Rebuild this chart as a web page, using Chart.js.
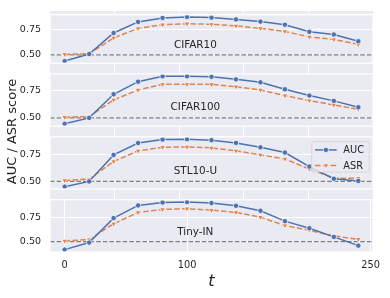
<!DOCTYPE html>
<html>
<head>
<meta charset="utf-8">
<script src="https://cdn.jsdelivr.net/npm/chart.js@4.4.1/dist/chart.umd.min.js"></script>
<style>
    html, body { margin: 0; padding: 0; background: #ffffff; }
    #wrap { position: relative; width: 390px; height: 298px; overflow: hidden; }
    #wrap canvas { position: absolute; left: 0; top: 0; }
</style>
</head>
<body>
<div id="wrap">
    <canvas id="bg" width="390" height="298"></canvas>
    <canvas id="p0" width="390" height="298"></canvas>
    <canvas id="p1" width="390" height="298"></canvas>
    <canvas id="p2" width="390" height="298"></canvas>
    <canvas id="p3" width="390" height="298"></canvas>
</div>
<script>
// Data
const steps = [0, 20, 40, 60, 80, 100, 120, 140, 160, 180, 200, 220, 240];
const panelNames = ['CIFAR10', 'CIFAR100', 'STL10-U', 'Tiny-IN'];
const seriesNames = ['AUC', 'ASR'];

const aucCifar10  = [0.438, 0.509, 0.719, 0.830, 0.870, 0.880, 0.873, 0.855, 0.833, 0.802, 0.731, 0.704, 0.636];
const asrCifar10  = [0.506, 0.512, 0.670, 0.765, 0.802, 0.812, 0.806, 0.790, 0.765, 0.735, 0.679, 0.654, 0.605];
const aucCifar100 = [0.446, 0.500, 0.714, 0.828, 0.877, 0.877, 0.873, 0.849, 0.822, 0.759, 0.702, 0.654, 0.596];
const asrCifar100 = [0.506, 0.512, 0.663, 0.753, 0.804, 0.804, 0.804, 0.783, 0.753, 0.702, 0.657, 0.617, 0.578];
const aucStl10    = [0.450, 0.500, 0.750, 0.862, 0.895, 0.898, 0.889, 0.863, 0.821, 0.772, 0.640, 0.525, 0.505];
const asrStl10    = [0.509, 0.522, 0.688, 0.788, 0.822, 0.825, 0.816, 0.788, 0.750, 0.712, 0.616, 0.530, 0.531];
const aucTinyIn   = [0.418, 0.490, 0.740, 0.870, 0.900, 0.904, 0.894, 0.866, 0.815, 0.709, 0.637, 0.548, 0.459];
const asrTinyIn   = [0.507, 0.521, 0.682, 0.798, 0.829, 0.836, 0.822, 0.798, 0.750, 0.664, 0.616, 0.558, 0.524];

const aucSeries = [aucCifar10, aucCifar100, aucStl10, aucTinyIn];
const asrSeries = [asrCifar10, asrCifar100, asrStl10, asrTinyIn];

const yTicks = [0.5, 0.75];
const xTicks = [0, 100, 250];
const chanceLevel = 0.5;

// Layout (pixels)
const AREA_LEFT = 50, AREA_RIGHT = 373, AREA_TOP = 11, AREA_BOTTOM = 252;
const PANEL_H = 52.3, PANEL_GAP = 10.6;
const W = 390, H = 298;

const GRAY_BG = '#eaeaf2';
const BLUE = '#4c72b0';
const ORANGE = '#dd8452';
const TEXT = '#262626';
const FONT = "'DejaVu Sans', sans-serif";

Chart.defaults.font.family = FONT;
Chart.defaults.color = TEXT;

// matplotlib style autoscale: 5% margins
function paddedRange(values) {
    const lo = Math.min(...values), hi = Math.max(...values);
    const m = (hi - lo) * 0.05;
    return [lo - m, hi + m];
}
const xRange = paddedRange(steps);

// background axes (the grey figure-level frame with its own grid)
const bgPlugin = {
    id: 'bgFill',
    beforeDraw(chart) {
        const {ctx, chartArea: a} = chart;
        ctx.save();
        ctx.fillStyle = GRAY_BG;
        ctx.fillRect(a.left, a.top, a.right - a.left, a.bottom - a.top);
        ctx.restore();
    }
};

new Chart(document.getElementById('bg'), {
    type: 'scatter',
    data: { datasets: [] },
    options: {
        responsive: false,
        animation: false,
        events: [],
        layout: { padding: { left: 0, right: W - AREA_RIGHT, top: AREA_TOP, bottom: 0 } },
        plugins: { legend: { display: false }, tooltip: { enabled: false } },
        scales: {
            x: {
                type: 'linear', min: 0, max: 1,
                afterBuildTicks: s => { s.ticks = [0.2, 0.4, 0.6, 0.8].map(v => ({ value: v })); },
                afterFit: s => { s.height = H - AREA_BOTTOM; },
                ticks: { display: false },
                grid: { color: '#ffffff', lineWidth: 1, drawTicks: false },
                border: { display: false }
            },
            y: {
                type: 'linear', min: 0, max: 1,
                afterBuildTicks: s => { s.ticks = [0.2, 0.4, 0.6, 0.8].map(v => ({ value: v })); },
                afterFit: s => { s.width = AREA_LEFT; },
                ticks: { display: false },
                grid: { color: '#ffffff', lineWidth: 1, drawTicks: false },
                border: { display: false },
                title: {
                    display: true,
                    text: 'AUC / ASR score',
                    color: TEXT,
                    font: { size: 13 },
                    padding: { top: 5, bottom: 0 }
                }
            }
        }
    },
    plugins: [bgPlugin]
});

// draw a legend marker
function drawMarker(ctx, style, x, y, r, fill) {
    ctx.save();
    ctx.fillStyle = fill;
    ctx.strokeStyle = '#ffffff';
    ctx.lineWidth = 0.75;
    ctx.setLineDash([]);
    ctx.beginPath();
    if (style === 'circle') {
        ctx.arc(x, y, r, 0, Math.PI * 2);
    } else {
        ctx.moveTo(x, y + r);
        ctx.lineTo(x - r * 0.866, y - r * 0.5);
        ctx.lineTo(x + r * 0.866, y - r * 0.5);
        ctx.closePath();
    }
    ctx.fill();
    ctx.stroke();
    ctx.restore();
}

const panelPlugin = {
    id: 'panelDecor',
    beforeDraw(chart) {
        const {ctx, chartArea: a} = chart;
        ctx.save();
        ctx.fillStyle = GRAY_BG;
        ctx.fillRect(a.left, a.top, a.right - a.left, a.bottom - a.top);
        ctx.restore();
    },
    beforeDatasetsDraw(chart) {
        const {ctx, chartArea: a, scales: {y}} = chart;
        const py = y.getPixelForValue(chanceLevel);
        ctx.save();
        ctx.strokeStyle = '#808080';
        ctx.lineWidth = 1.3;
        ctx.setLineDash([4.6, 2]);
        ctx.beginPath();
        ctx.moveTo(a.left, py);
        ctx.lineTo(a.right, py);
        ctx.stroke();
        ctx.restore();
    },
    afterDatasetsDraw(chart, args, opts) {
        const {ctx, chartArea: a, scales: {y}} = chart;
        ctx.save();
        // white spines
        ctx.strokeStyle = '#ffffff';
        ctx.lineWidth = 1.25;
        ctx.strokeRect(a.left, a.top, a.right - a.left, a.bottom - a.top);

        // panel name
        ctx.fillStyle = TEXT;
        ctx.font = '10.4px ' + FONT;
        ctx.textAlign = 'center';
        ctx.textBaseline = 'middle';
        ctx.fillText(opts.title, a.left + 0.45 * (a.right - a.left), y.getPixelForValue(0.595));

        // legend box
        if (opts.legend) {
            const bw = 57.6, bh = 30.6;
            const bx = a.right - 3.7 - bw, by = a.top + 4.7;
            ctx.beginPath();
            ctx.roundRect(bx, by, bw, bh, 2.5);
            ctx.fillStyle = 'rgba(234, 234, 242, 0.8)';
            ctx.fill();
            ctx.strokeStyle = 'rgba(204, 204, 204, 0.8)';
            ctx.lineWidth = 0.8;
            ctx.stroke();
            chart.data.datasets.forEach((ds, j) => {
                const ry = by + 8.4 + j * 15.6;
                ctx.save();
                ctx.strokeStyle = ds.borderColor;
                ctx.lineWidth = ds.borderWidth;
                ctx.setLineDash(ds.borderDash || []);
                ctx.beginPath();
                ctx.moveTo(bx + 3.3, ry);
                ctx.lineTo(bx + 25, ry);
                ctx.stroke();
                ctx.restore();
                drawMarker(ctx, ds.pointStyle, bx + 14.2, ry, ds.pointRadius, ds.borderColor);
                ctx.fillStyle = TEXT;
                ctx.font = '9.8px ' + FONT;
                ctx.textAlign = 'left';
                ctx.textBaseline = 'middle';
                ctx.fillText(ds.label, bx + 31.6, ry + 0.5);
            });
        }
        ctx.restore();
    }
};

panelNames.forEach((name, i) => {
    const top = AREA_TOP + i * (PANEL_H + PANEL_GAP);
    const bottom = top + PANEL_H;
    const isLast = i === panelNames.length - 1;
    const auc = aucSeries[i], asr = asrSeries[i];
    const yRange = paddedRange(auc.concat(asr, [chanceLevel]));

    new Chart(document.getElementById('p' + i), {
        type: 'line',
        data: {
            datasets: [
                {
                    label: seriesNames[0],
                    data: steps.map((t, k) => ({ x: t, y: auc[k] })),
                    borderColor: BLUE,
                    backgroundColor: BLUE,
                    borderWidth: 1.5,
                    pointStyle: 'circle',
                    pointRadius: 2.7,
                    pointBackgroundColor: BLUE,
                    pointBorderColor: '#ffffff',
                    pointBorderWidth: 0.75,
                    tension: 0
                },
                {
                    label: seriesNames[1],
                    data: steps.map((t, k) => ({ x: t, y: asr[k] })),
                    borderColor: ORANGE,
                    backgroundColor: ORANGE,
                    borderWidth: 1.5,
                    borderDash: [5.5, 2.3],
                    pointStyle: 'triangle',
                    rotation: 180,
                    pointRadius: 3.3,
                    pointBackgroundColor: ORANGE,
                    pointBorderColor: '#ffffff',
                    pointBorderWidth: 0.75,
                    tension: 0
                }
            ]
        },
        options: {
            responsive: false,
            animation: false,
            events: [],
            layout: { padding: { left: 0, right: W - AREA_RIGHT, top: top, bottom: isLast ? 0 : H - bottom } },
            plugins: {
                legend: { display: false },
                tooltip: { enabled: false },
                panelDecor: { title: name, legend: i === 2 }
            },
            scales: {
                x: {
                    type: 'linear',
                    display: isLast,
                    min: xRange[0], max: xRange[1],
                    afterBuildTicks: s => { s.ticks = xTicks.map(v => ({ value: v })); },
                    afterFit: s => { s.height = isLast ? H - AREA_BOTTOM : 0; },
                    ticks: { font: { size: 9.8 }, padding: 8, color: TEXT, maxRotation: 0 },
                    grid: { color: '#ffffff', lineWidth: 1, drawTicks: false },
                    border: { display: false },
                    title: {
                        display: true,
                        text: 't',
                        color: TEXT,
                        font: { size: 16, style: 'italic' },
                        padding: { top: 0, bottom: 6.5 }
                    }
                },
                y: {
                    type: 'linear',
                    min: yRange[0], max: yRange[1],
                    afterBuildTicks: s => { s.ticks = yTicks.map(v => ({ value: v })); },
                    afterFit: s => { s.width = AREA_LEFT; },
                    ticks: { font: { size: 9.5 }, padding: 9, color: TEXT, callback: v => v.toFixed(2) },
                    grid: { color: '#ffffff', lineWidth: 1, drawTicks: false },
                    border: { display: false }
                }
            }
        },
        plugins: [panelPlugin]
    });
});
</script>
</body>
</html>
